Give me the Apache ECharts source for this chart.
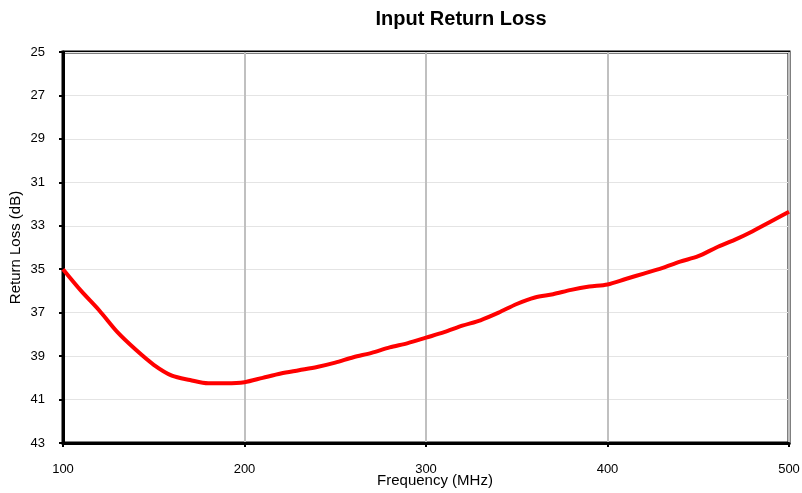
<!DOCTYPE html>
<html>
<head>
<meta charset="utf-8">
<script src="https://cdn.jsdelivr.net/npm/echarts@6/dist/echarts.min.js"></script>
<style>html,body{margin:0;padding:0;background:#fff}#c{width:802px;height:493px}</style>
</head>
<body>
<div id="c"></div>
<script>
const freqMHz = [100,110,120,130,140,150,160,170,180,190,200,210,220,230,240,250,260,270,280,290,300,310,320,330,340,350,360,370,380,390,400,410,420,430,440,450,460,470,480,490,500];
const returnLossDb = [35.0,36.0,36.9,37.9,38.7,39.4,39.9,40.1,40.25,40.25,40.2,40.0,39.8,39.65,39.5,39.3,39.05,38.85,38.6,38.4,38.15,37.9,37.6,37.35,37.0,36.6,36.3,36.15,35.95,35.8,35.7,35.45,35.2,34.95,34.65,34.4,34.0,33.65,33.25,32.8,32.35];
const yTicks = [25,27,29,31,33,35,37,39,41,43];
const xTicks = [100,200,300,400,500];

const chart = echarts.init(document.getElementById('c'));
const font = 'Liberation Sans, Arial, sans-serif';
chart.setOption({
  animation: false,
  title: {
    text: 'Input Return Loss', left: 456, top: 4, textAlign: 'center',
    textStyle: {fontFamily: font, fontSize: 20, fontWeight: 'bold', color: '#000'}
  },
  grid: {left: 63, right: 13, top: 52, bottom: 50, containLabel: false, outerBoundsMode: 'none',
         show: true, borderColor: '#000', borderWidth: 3, backgroundColor: '#fff'},
  xAxis: {
    type: 'value', min: xTicks[0], max: xTicks[xTicks.length-1], interval: 100,
    name: 'Frequency (MHz)', nameLocation: 'middle', nameGap: 30, nameMoveOverlap: false,
    nameTextStyle: {fontFamily: font, fontSize: 15, color: '#000', padding: [0,0,0,18]},
    axisLine: {show: true, lineStyle: {color: '#000', width: 3}},
    axisTick: {show: true, inside: false, length: 4, lineStyle: {color: '#000', width: 2}},
    axisLabel: {fontFamily: font, fontSize: 13, color: '#000', margin: 20},
    splitLine: {show: true, lineStyle: {color: '#c0c0c0', width: 2}}
  },
  yAxis: {
    type: 'value', inverse: true, min: yTicks[0], max: yTicks[yTicks.length-1], interval: 2,
    name: 'Return Loss (dB)', nameLocation: 'middle', nameGap: 40, nameMoveOverlap: false, nameRotate: 90,
    nameTextStyle: {fontFamily: font, fontSize: 15, color: '#000'},
    axisLine: {show: true, lineStyle: {color: '#000', width: 3}},
    axisTick: {show: true, inside: false, length: 4, lineStyle: {color: '#000', width: 2}},
    axisLabel: {fontFamily: font, fontSize: 13, color: '#000', margin: 18},
    splitLine: {show: true, lineStyle: {color: '#e4e4e4', width: 1}}
  },
  series: [{
    type: 'line', data: freqMHz.map((f, i) => [f, returnLossDb[i]]),
    showSymbol: false, smooth: 0.3,
    lineStyle: {color: '#ff0000', width: 4}
  }]
});
</script>
</body>
</html>
